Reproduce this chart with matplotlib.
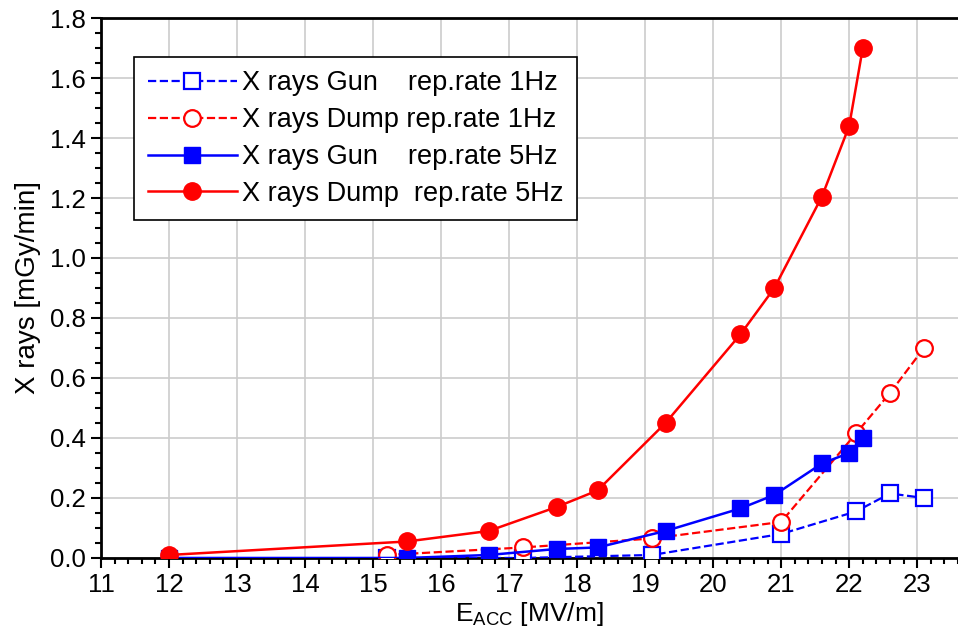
import matplotlib
matplotlib.use('Agg')
from matplotlib import pyplot as plt
from matplotlib.ticker import MultipleLocator, FormatStrFormatter

# data
e_gun_1hz = [15.2, 17.2, 19.1, 21.0, 22.1, 22.6, 23.1]
x_gun_1hz = [0.0, 0.0, 0.01, 0.08, 0.155, 0.215, 0.20]

e_dump_1hz = [15.2, 17.2, 19.1, 21.0, 22.1, 22.6, 23.1]
x_dump_1hz = [0.01, 0.035, 0.065, 0.12, 0.415, 0.55, 0.70]

e_5hz = [12.0, 15.5, 16.7, 17.7, 18.3, 19.3, 20.4, 20.9, 21.6, 22.0, 22.2]
x_gun_5hz = [0.0, 0.0, 0.01, 0.03, 0.035, 0.09, 0.165, 0.21, 0.315, 0.35, 0.40]
x_dump_5hz = [0.01, 0.055, 0.09, 0.17, 0.225, 0.45, 0.745, 0.90, 1.205, 1.44, 1.70]

labels = ['X rays Gun    rep.rate 1Hz',
          'X rays Dump rep.rate 1Hz',
          'X rays Gun    rep.rate 5Hz',
          'X rays Dump  rep.rate 5Hz']

plt.rcParams['font.family'] = ['Liberation Sans', 'DejaVu Sans']

fig = plt.figure(figsize=(9.58, 6.39), dpi=100)
ax = fig.add_axes([0.1054, 0.1268, 0.8946, 0.845])

ax.plot(e_gun_1hz, x_gun_1hz, '--s', color='blue', lw=1.6, ms=11,
        mfc='white', mec='blue', mew=1.6, label=labels[0], zorder=3)
ax.plot(e_dump_1hz, x_dump_1hz, '--o', color='red', lw=1.6, ms=12,
        mfc='white', mec='red', mew=1.6, label=labels[1], zorder=3)
ax.plot(e_5hz, x_gun_5hz, '-s', color='blue', lw=1.8, ms=11,
        label=labels[2], zorder=4)
ax.plot(e_5hz, x_dump_5hz, '-o', color='red', lw=1.8, ms=12.5,
        label=labels[3], zorder=5)

# axes settings
ax.set_xlim(11, 23.6)
ax.set_ylim(0, 1.8)
ax.xaxis.set_major_locator(MultipleLocator(1))
ax.xaxis.set_minor_locator(MultipleLocator(0.2))
ax.yaxis.set_major_locator(MultipleLocator(0.2))
ax.yaxis.set_minor_locator(MultipleLocator(0.05))
ax.yaxis.set_major_formatter(FormatStrFormatter('%.1f'))
ax.grid(True, which='major', color='#cccccc', lw=1.2)
ax.set_axisbelow(True)
ax.tick_params(which='major', direction='out', length=7, width=1.5, labelsize=18.5, pad=4)
ax.tick_params(which='minor', direction='out', length=4, width=1.5)
ax.spines['right'].set_visible(False)
for s in ['left', 'bottom', 'top']:
    ax.spines[s].set_linewidth(2)

ax.set_xlabel('E$_{\\mathregular{ACC}}$ [MV/m]', fontsize=19, labelpad=2)
ax.set_ylabel('X rays [mGy/min]', fontsize=20, labelpad=6)

leg = ax.legend(loc='upper left', bbox_to_anchor=(0.0385, 0.928), fontsize=19.5,
                fancybox=False, framealpha=1, edgecolor='black',
                handlelength=3.3, handletextpad=0.2, labelspacing=0.4,
                borderpad=0.5, borderaxespad=0)
leg.get_frame().set_linewidth(1.2)

fig.savefig('out.png', dpi=100)
